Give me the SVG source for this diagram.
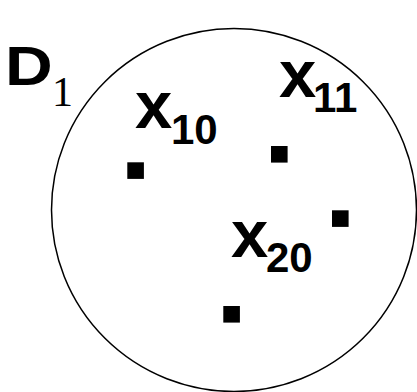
<svg xmlns="http://www.w3.org/2000/svg" width="417" height="392" viewBox="0 0 417 392">
<style>
.lbl{font-family:"Liberation Sans",Arial,sans-serif;font-weight:bold;fill:#000}
.sub{font-size:42px}
.pt{fill:#000}
</style>
<rect width="417" height="392" fill="#fff"/>
<g id="region">
<ellipse cx="234" cy="210" rx="182.5" ry="181.5" fill="none" stroke="#000" stroke-width="1.5"/>
</g>
<g id="D1">
<text class="lbl" transform="translate(10,85) scale(1.18,1)" x="-4.3" y="0" font-size="56">D</text>
<text x="52" y="106" font-family="'Liberation Serif','Times New Roman',serif" font-size="42" fill="#000">1</text>
</g>
<g id="x10">
<text class="lbl" x="135" y="128" font-size="67">x<tspan class="sub" x="171" dy="16">10</tspan></text>
</g>
<g id="x11">
<text class="lbl" x="279" y="96.7" font-size="67">x<tspan class="sub" x="313" dy="15">11</tspan></text>
</g>
<g id="x20">
<text class="lbl" x="231" y="256.7" font-size="67">x<tspan class="sub" x="266" dy="15">20</tspan></text>
</g>
<g id="points">
<rect class="pt" x="127.3" y="162.3" width="16.6" height="16.6"/>
<rect class="pt" x="271" y="146" width="16.6" height="16.6"/>
<rect class="pt" x="332" y="210.3" width="16.6" height="16.6"/>
<rect class="pt" x="223.3" y="306" width="16.6" height="16.6"/>
</g>
</svg>
